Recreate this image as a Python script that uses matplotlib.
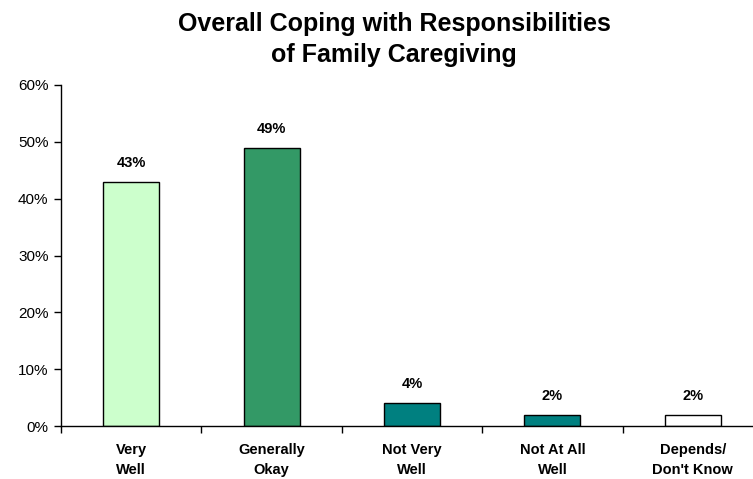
import matplotlib
matplotlib.use('Agg')
import matplotlib.pyplot as plt
import numpy as np

plt.rcParams['font.family'] = ['Liberation Sans', 'DejaVu Sans']

categories = ['Very\nWell', 'Generally\nOkay', 'Not Very\nWell', 'Not At All\nWell', "Depends/\nDon't Know"]
values = [43, 49, 4, 2, 2]
colors = ['#CCFFCC', '#339966', '#008080', '#008080', '#FFFFFF']

fig = plt.figure(figsize=(7.53, 4.79), dpi=100)
ax = fig.add_axes([61 / 753, 1 - 426 / 479, 702 / 753, 341 / 479])

x = np.arange(len(categories))
bars = ax.bar(x, values, width=0.4, color=colors, edgecolor='black', linewidth=1)

for b, v in zip(bars, values):
    ax.text(b.get_x() + b.get_width() / 2, v + 2.6, f'{v}%', ha='center', va='baseline',
            fontsize=10.5, fontweight='bold')

ax.set_xlim(-0.5, len(categories) - 0.5)
ax.set_ylim(0, 60)
ax.set_yticks(np.arange(0, 61, 10))
ax.set_yticklabels([f'{t}%' for t in range(0, 61, 10)], fontsize=11)
ax.tick_params(axis='y', direction='out', length=5, width=1, pad=4)

# ticks sit between categories, labels sit under the bars
ax.set_xticks(np.arange(-0.5, len(categories), 1))
ax.set_xticklabels([])
ax.set_xticks(x, minor=True)
ax.set_xticklabels(categories, minor=True, fontsize=10.5, fontweight='bold', linespacing=1.55)
ax.tick_params(axis='x', which='major', direction='out', length=5, width=1)
ax.tick_params(axis='x', which='minor', length=0, pad=12)

for s in ['top', 'right']:
    ax.spines[s].set_visible(False)
for s in ['left', 'bottom']:
    ax.spines[s].set_linewidth(1)

fig.text(394 / 753, 1 - 62 / 479, 'Overall Coping with Responsibilities\nof Family Caregiving',
         ha='center', va='baseline', fontsize=18, fontweight='bold', linespacing=1.35)

fig.savefig('out.png', dpi=100)
